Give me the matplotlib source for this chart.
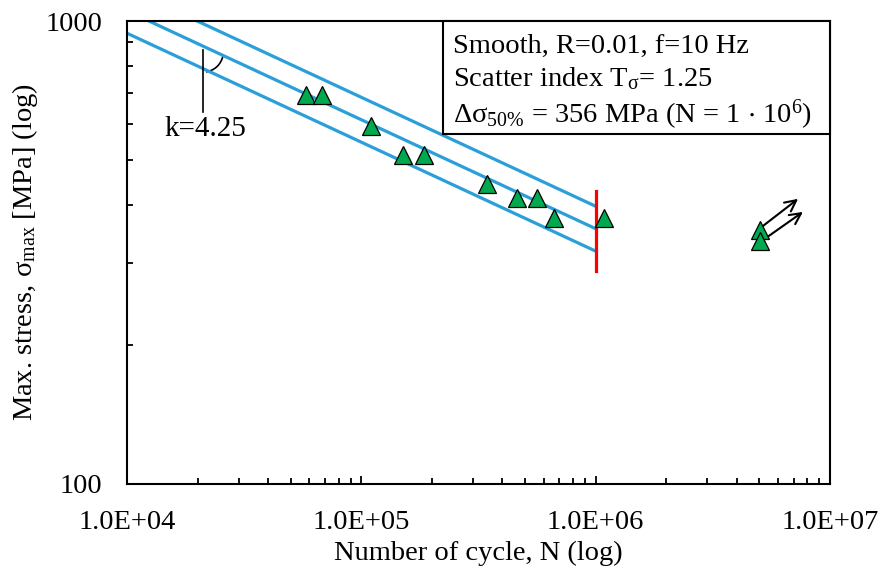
# S-N curve, smooth specimens, R=0.01
import numpy as np
import matplotlib.pyplot as plt
from matplotlib.patches import Arc, Rectangle
from matplotlib.ticker import FixedLocator, FixedFormatter, NullFormatter

plt.rcParams['font.family'] = 'Liberation Serif'
plt.rcParams['mathtext.fontset'] = 'custom'
plt.rcParams['mathtext.rm'] = 'Liberation Serif'
plt.rcParams['mathtext.it'] = 'Liberation Serif:italic'

# test results (failures)
N_fail = [58000, 68000, 110000, 151000, 185000, 344000, 462000, 563000, 664000, 1087000]
S_fail = [692, 692, 593, 514, 514, 445, 415, 415, 376, 376]
# run-outs
N_run = [5.04e6, 5.04e6]
S_run = [354, 335]

# fitted curve
k = 4.25
S50 = 356.0
N_ref = 1e6
T_s = 1.25
N_line = [1e4, 1e6]

# knee line
N_knee = 1e6
S_knee = [288, 430]

info_lines = ['Smooth, R=0.01, f=10 Hz',
              r'Scatter index T$_\mathregular{\sigma}$= 1.25',
              r'$\mathregular{\Delta\sigma_{50\%}}$ = 356 MPa (N = 1 $\mathregular{\cdot}$ 10$^\mathregular{6}$)']

blue = '#2A9FD8'
green = '#00A84F'

fig = plt.figure(figsize=(8.82, 5.74), dpi=100)
ax = fig.add_axes([0.144, 0.1568, 0.797, 0.8066])

N_arr = np.array(N_line)
for f in [np.sqrt(T_s), 1.0, 1.0 / np.sqrt(T_s)]:
    ax.plot(N_arr, S50 * f * (N_ref / N_arr) ** (1.0 / k), color=blue, lw=2.3, zorder=2)

ax.plot([N_knee, N_knee], S_knee, color='red', lw=2.3, zorder=3)

ax.plot(N_fail, S_fail, '^', ms=12.5, mfc=green, mec='black', mew=0.9, zorder=4)
ax.plot(N_run, S_run, '^', ms=12.5, mfc=green, mec='black', mew=0.9, zorder=4)

# run-out arrows
ax.annotate('', xy=(7.31e6, 413), xytext=(4.93e6, 354),
            arrowprops=dict(arrowstyle='->', color='black', lw=1.5, mutation_scale=20,
                            shrinkA=0, shrinkB=0))
ax.annotate('', xy=(7.67e6, 387), xytext=(5.16e6, 336),
            arrowprops=dict(arrowstyle='->', color='black', lw=1.5, mutation_scale=20,
                            shrinkA=0, shrinkB=0))

# slope marker
ax.plot([2.12e4, 2.12e4], [635, 865], color='black', lw=1.2, zorder=3)
ax.add_patch(Arc((0.1085, 0.933), 0.0569, 0.0864, theta1=-85, theta2=-18,
                 transform=ax.transAxes, color='black', lw=1.2))
ax.text(2.17e4, 585, 'k=4.25', fontsize=21, ha='center', va='center')

# info box
ax.add_patch(Rectangle((0.4495, 0.756), 0.5505, 0.244, transform=ax.transAxes,
                       fc='white', ec='black', lw=1.5, zorder=5, clip_on=False))
for yb, s in zip([0.931, 0.859, 0.781], info_lines):
    ax.text(0.4637, yb, s, transform=ax.transAxes, fontsize=20.5,
            ha='left', va='baseline', zorder=6)

ax.set_xscale('log')
ax.set_yscale('log')
ax.set_xlim(1e4, 1e7)
ax.set_ylim(100, 1000)

ax.xaxis.set_major_locator(FixedLocator([1e4, 1e5, 1e6, 1e7]))
ax.xaxis.set_major_formatter(FixedFormatter(['1.0E+04', '1.0E+05', '1.0E+06', '1.0E+07']))
ax.xaxis.set_minor_formatter(NullFormatter())
ax.yaxis.set_major_locator(FixedLocator([100, 1000]))
ax.yaxis.set_major_formatter(FixedFormatter(['100', '1000']))
ax.yaxis.set_minor_formatter(NullFormatter())

ax.tick_params(which='both', direction='in', labelsize=20.5, width=1.3)
ax.tick_params(which='major', length=6)
ax.tick_params(which='minor', length=4.5)
ax.tick_params(axis='x', which='both', pad=19)
ax.tick_params(axis='y', which='both', pad=18)
for s in ax.spines.values():
    s.set_linewidth(1.5)

ax.set_xlabel('Number of cycle, N (log)', fontsize=20.5, labelpad=4)
ax.set_ylabel(r'Max. stress, $\mathregular{\sigma_{max}}$ [MPa] (log)', fontsize=20.5, labelpad=4)

fig.savefig('out.png', dpi=100)
